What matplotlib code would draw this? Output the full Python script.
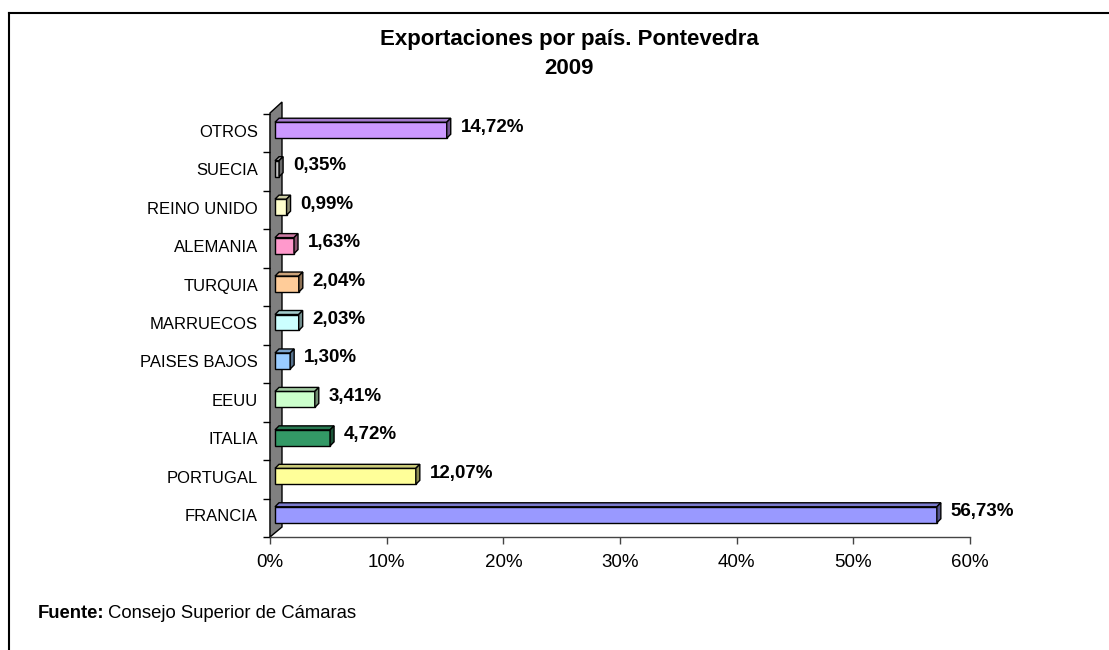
import matplotlib
matplotlib.use("Agg")
import matplotlib.pyplot as plt
from matplotlib.patches import Polygon
from matplotlib.transforms import ScaledTranslation, IdentityTransform
from matplotlib.ticker import FixedLocator, FuncFormatter
import matplotlib.colors as mcolors
import numpy as np

plt.rcParams['font.family'] = ['Liberation Sans', 'DejaVu Sans']

categories = ["FRANCIA", "PORTUGAL", "ITALIA", "EEUU", "PAISES BAJOS", "MARRUECOS",
              "TURQUIA", "ALEMANIA", "REINO UNIDO", "SUECIA", "OTROS"]
values = [56.73, 12.07, 4.72, 3.41, 1.30, 2.03, 2.04, 1.63, 0.99, 0.35, 14.72]
value_labels = ["56,73%", "12,07%", "4,72%", "3,41%", "1,30%", "2,03%", "2,04%",
                "1,63%", "0,99%", "0,35%", "14,72%"]
colors = ["#9999FF", "#FFFF99", "#339966", "#CCFFCC", "#99CCFF", "#CCFFFF",
          "#FFCC99", "#FF99CC", "#FFFFCC", "#C0C0C0", "#CC99FF"]
xticks = [0, 10, 20, 30, 40, 50, 60]

W, H = 1109, 650
fig = plt.figure(figsize=(W / 100, H / 100), dpi=100)
fig.patch.set_facecolor("white")

axl, axr, axt, axb = 270, 970, 114, 537
ax = fig.add_axes([axl / W, 1 - axb / H, (axr - axl) / W, (axb - axt) / H])
ax.set_xlim(0, 60)
ax.set_ylim(-0.5, len(categories) - 0.5)
ax.patch.set_alpha(0)
for s in ["top", "right"]:
    ax.spines[s].set_visible(False)
ax.spines["left"].set_linewidth(1.0)
ax.spines["bottom"].set_linewidth(1.0)
ax.spines["bottom"].set_color("#444444")
ax.spines["left"].set_color("black")
ax.spines["left"].set_zorder(0.5)

ax.set_xticks(xticks)
ax.xaxis.set_major_formatter(FuncFormatter(lambda v, p: f"{int(v)}%"))
ax.tick_params(axis="x", length=5, width=1, color="#444444", labelsize=13.5, pad=7)
ax.set_yticks(range(len(categories)))
ax.set_yticklabels(categories, fontsize=12)
ax.tick_params(axis="y", which="major", length=0, pad=8.6)
ax.yaxis.set_minor_locator(FixedLocator(np.arange(-0.5, len(categories), 1.0)))
ax.tick_params(axis="y", which="minor", length=5, width=1, color="black")
for lab in ax.get_yticklabels():
    lab.set_transform(lab.get_transform() + ScaledTranslation(0, 2.5 / 100, fig.dpi_scale_trans))

fig.canvas.draw()
td = ax.transData

# Gray wall (3D side wall)
x0, y0 = td.transform((0, -0.5))
_, yt = td.transform((0, len(categories) - 0.5))
dw = 12
wall = Polygon([(x0, y0), (x0, yt + 1), (x0 + dw, yt + 12), (x0 + dw, y0 + 10)],
               closed=True, facecolor="#808080", edgecolor="black", lw=1.0,
               transform=IdentityTransform(), zorder=1, clip_on=False)
ax.add_patch(wall)

# Bars
bh = 0.416
offx, offy = 5, 3
d = 4
tr = td + ScaledTranslation(offx / 100, offy / 100, fig.dpi_scale_trans)
ax.barh(range(len(categories)), values, height=bh, color=colors, edgecolor="black",
        linewidth=1.0, transform=tr, zorder=3, clip_on=False)

for i, (v, c) in enumerate(zip(values, colors)):
    rgb = np.array(mcolors.to_rgb(c))
    xa, yb = td.transform((0, i - bh / 2))
    xb, ytop = td.transform((v, i + bh / 2))
    xa += offx; xb += offx; yb += offy; ytop += offy
    top = Polygon([(xa, ytop), (xb, ytop), (xb + d, ytop + d), (xa + d, ytop + d)],
                  closed=True, facecolor=rgb * 0.8, edgecolor="black", lw=1.0,
                  transform=IdentityTransform(), zorder=4, clip_on=False)
    side = Polygon([(xb, yb), (xb, ytop), (xb + d, ytop + d), (xb + d, yb + d)],
                   closed=True, facecolor=rgb * 0.55, edgecolor="black", lw=1.0,
                   transform=IdentityTransform(), zorder=4, clip_on=False)
    ax.add_patch(top)
    ax.add_patch(side)
    ltr = td + ScaledTranslation(19 / 100, 6 / 100, fig.dpi_scale_trans)
    ax.text(v, i, value_labels[i], transform=ltr, fontsize=13.5, fontweight="bold",
            ha="left", va="center", zorder=5, clip_on=False)

# Title
fig.text(569 / W, 1 - 39 / H, "Exportaciones por país. Pontevedra", ha="center",
         va="center", fontsize=16, fontweight="bold")
fig.text(569 / W, 1 - 69 / H, "2009", ha="center", va="center", fontsize=16,
         fontweight="bold")

# Source
t1 = fig.text(38 / W, 1 - 613 / H, "Fuente:", ha="left", va="center", fontsize=13.3,
              fontweight="bold")
fig.canvas.draw()
bb = t1.get_window_extent()
fig.text((bb.x1 + 3) / W, 1 - 613 / H, "Consejo Superior de Cámaras", ha="left",
         va="center", fontsize=13.3)

# Frame lines (cropped border)
fig.add_artist(plt.Line2D([8.5 / W, 1], [1 - 12.5 / H, 1 - 12.5 / H], color="black",
                          lw=1.5, transform=fig.transFigure))
fig.add_artist(plt.Line2D([8.5 / W, 8.5 / W], [1 - 12.5 / H, 0], color="black",
                          lw=1.5, transform=fig.transFigure))

fig.savefig("out.png", dpi=100)
